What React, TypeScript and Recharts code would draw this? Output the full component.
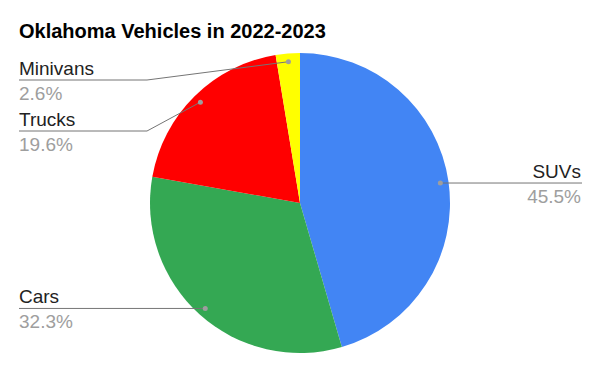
import React from "react";
import { PieChart, Pie, Cell } from "recharts";

const categories = ["SUVs", "Cars", "Trucks", "Minivans"];
const values = [45.5, 32.3, 19.6, 2.6];
const colors = ["#4285F4", "#34A853", "#FF0000", "#FFFF00"];
const title = "Oklahoma Vehicles in 2022-2023";

const W = 600;
const H = 371;
const CX = 300;
const CY = 203;
const R = 150;
const DOT_R = R * 0.945;
const LEFT_X = 19;
const RIGHT_X = 582;
const MIN_Y = 80;
const GAP = 51;

const data = categories.map((name, i) => ({ name, value: values[i] }));
const total = values.reduce((a, b) => a + b, 0);

type LabelPos = { dotX: number; dotY: number; lineY: number; side: "left" | "right" };

const layout: LabelPos[] = (() => {
  let cum = 0;
  const res: LabelPos[] = values.map((v) => {
    const mid = (cum + v / 2) / total;
    cum += v;
    const th = mid * 2 * Math.PI;
    const dotX = CX + DOT_R * Math.sin(th);
    const dotY = CY - DOT_R * Math.cos(th);
    return { dotX, dotY, lineY: dotY, side: dotX >= CX ? "right" : "left" };
  });
  (["left", "right"] as const).forEach((side) => {
    const idx = res.map((_, i) => i).filter((i) => res[i].side === side);
    idx.sort((a, b) => res[a].dotY - res[b].dotY);
    let prev = -Infinity;
    idx.forEach((i) => {
      const y = Math.max(res[i].dotY, prev + GAP, MIN_Y);
      res[i].lineY = y;
      prev = y;
    });
  });
  return res;
})();

const renderLabel = (props: any) => {
  const i = props.index;
  const p = layout[i];
  const left = p.side === "left";
  const endX = left ? LEFT_X : RIGHT_X;
  const elbowX = left ? CX - R - 3 : CX + R + 3;
  const pct = ((values[i] / total) * 100).toFixed(1) + "%";
  const anchor = left ? "start" : "end";
  const tx = left ? LEFT_X : RIGHT_X - 1;
  return (
    <g key={"lbl" + i}>
      <polyline
        points={`${endX},${p.lineY} ${elbowX},${p.lineY} ${p.dotX},${p.dotY}`}
        fill="none"
        stroke="#757575"
        strokeWidth={1}
      />
      <circle cx={p.dotX} cy={p.dotY} r={2.5} fill="#9e9e9e" />
      <text
        x={tx}
        y={p.lineY - 5}
        textAnchor={anchor}
        fontFamily="Arial, 'Liberation Sans', sans-serif"
        fontSize={19}
        fill="#222222"
      >
        {categories[i]}
      </text>
      <text
        x={tx}
        y={p.lineY + 20}
        textAnchor={anchor}
        fontFamily="Arial, 'Liberation Sans', sans-serif"
        fontSize={19}
        fill="#9e9e9e"
      >
        {pct}
      </text>
    </g>
  );
};

export default function App() {
  return (
    <div style={{ position: "absolute", left: 0, top: 0, width: W, height: H, background: "#fff" }}>
      <div
        style={{
          position: "absolute",
          left: 19,
          top: 19,
          fontFamily: "Arial, 'Liberation Sans', sans-serif",
          fontWeight: "bold",
          fontSize: 20,
          color: "#000",
          lineHeight: "24px",
          whiteSpace: "nowrap",
        }}
      >
        {title}
      </div>
      <PieChart width={W} height={H} margin={{ top: 0, right: 0, bottom: 0, left: 0 }}>
        <Pie
          data={data}
          dataKey="value"
          nameKey="name"
          cx={CX}
          cy={CY}
          outerRadius={R}
          startAngle={90}
          endAngle={-270}
          stroke="none"
          label={renderLabel}
          labelLine={false}
          isAnimationActive={false}
        >
          {data.map((d, i) => (
            <Cell key={d.name} fill={colors[i]} />
          ))}
        </Pie>
      </PieChart>
    </div>
  );
}
